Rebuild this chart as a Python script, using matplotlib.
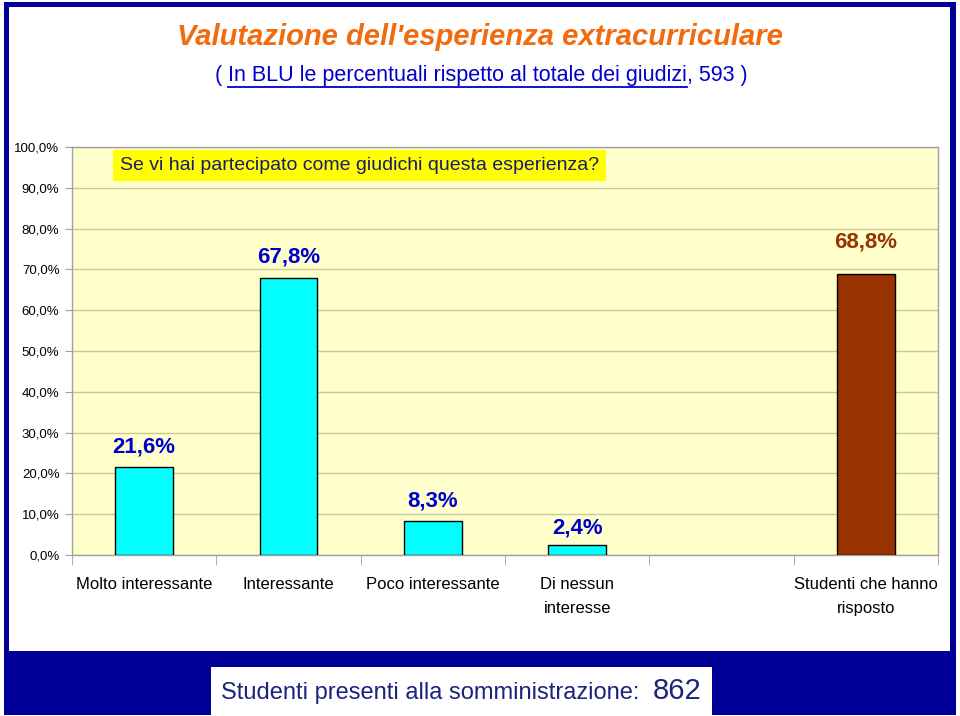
import matplotlib
matplotlib.use("Agg")
import matplotlib.pyplot as plt
from matplotlib.patches import Rectangle
import numpy as np

plt.rcParams['font.family'] = ['Liberation Sans', 'DejaVu Sans']

categories = ["Molto interessante", "Interessante", "Poco interessante",
              "Di nessun\ninteresse", "", "Studenti che hanno\nrisposto"]
values = [21.6, 67.8, 8.3, 2.4, np.nan, 68.8]
bar_colors = ["#00FFFF", "#00FFFF", "#00FFFF", "#00FFFF", "#00FFFF", "#993300"]
label_colors = ["#0000CC", "#0000CC", "#0000CC", "#0000CC", "#0000CC", "#993300"]
label_offsets = [7, 8, 7, 5, 0, 16]
yticks = [0, 10, 20, 30, 40, 50, 60, 70, 80, 90, 100]

W, H = 960, 716
fig = plt.figure(figsize=(W / 100, H / 100), dpi=100)
fig.patch.set_facecolor("white")

def fx(px):
    return px / W

def fy(py):
    return 1 - py / H

def rect(x0, y0, x1, y1, color, z):
    fig.patches.append(Rectangle((fx(x0), fy(y1)), fx(x1) - fx(x0), fy(y0) - fy(y1),
                                 transform=fig.transFigure, facecolor=color,
                                 edgecolor="none", zorder=z))

navy = "#000099"
rect(4, 2, 956, 715, navy, 0)        # outer blue frame / band
rect(9, 7, 950, 651, "white", 1)     # inner white panel
rect(211, 667, 712, 716, "white", 2) # white box in band

fig.text(fx(221), fy(693), "Studenti presenti alla somministrazione:", ha="left", va="center",
         fontsize=17, color="#1A237E", zorder=3)
fig.text(fx(702), fy(691), "862", ha="right", va="center",
         fontsize=21, color="#1A237E", zorder=3)

# title
fig.text(0.5, fy(37), "Valutazione dell'esperienza extracurriculare", ha="center", va="center",
         fontsize=21, color="#F26B0F", fontweight="bold", fontstyle="italic", zorder=3)
t1 = fig.text(fx(228), fy(75), "( ", ha="right", va="center", fontsize=15.5, color="#0000CC", zorder=3)
t2 = fig.text(fx(228), fy(75), "In BLU le percentuali rispetto al totale dei giudizi", ha="left",
              va="center", fontsize=15.5, color="#0000CC", zorder=3)
fig.canvas.draw()
bb = t2.get_window_extent()
fig.text((bb.x1) / W, fy(75), ", 593 )", ha="left", va="center", fontsize=15.5, color="#0000CC", zorder=3)
ul = plt.Line2D([bb.x0 / W, bb.x1 / W], [fy(87), fy(87)], color="#0000CC", linewidth=1.3,
                transform=fig.transFigure, zorder=3)
fig.add_artist(ul)

# axes
ax = fig.add_axes([fx(72), fy(555), fx(938) - fx(72), fy(147) - fy(555)])
ax.set_zorder(10)
ax.set_facecolor("#FFFFCC")
x = np.arange(len(categories))
ax.bar(x, values, width=0.4, color=bar_colors, edgecolor="black", linewidth=1, zorder=3)
for xi, v, c, off in zip(x, values, label_colors, label_offsets):
    if np.isnan(v):
        continue
    ax.annotate(f"{v:.1f}%".replace(".", ","), (xi, v), xytext=(0, off),
                textcoords="offset points", ha="center", va="bottom",
                fontsize=16, fontweight="bold", color=c, zorder=4)

ax.set_xlim(-0.5, len(categories) - 0.5)
ax.set_ylim(0, 100)
ax.set_yticks(yticks)
ax.set_yticklabels([f"{t:.1f}%".replace(".", ",") for t in yticks], fontsize=9.5)
ax.yaxis.grid(True, color="#C8C89A", linewidth=1, zorder=0)
ax.set_axisbelow(True)
ax.set_xticks(x)
ax.set_xticklabels(categories, fontsize=12, linespacing=1.75)
ax.tick_params(axis="x", length=0, pad=16)
ax.set_xticks(np.arange(len(categories) + 1) - 0.5, minor=True)
ax.tick_params(axis="x", which="minor", length=7, color="#A0A0A0")
ax.tick_params(axis="y", length=5, color="#A0A0A0", pad=4)
for s in ax.spines.values():
    s.set_color("#A0A0A0")
    s.set_linewidth(1)

ax.text(0.055, 0.955, "Se vi hai partecipato come giudichi questa esperienza?",
        transform=ax.transAxes, ha="left", va="center", fontsize=14, color="#1A1A6E",
        bbox=dict(boxstyle="square,pad=0.35", facecolor="#FFFF00", edgecolor="none"), zorder=5)

fig.savefig("out.png", dpi=100)
